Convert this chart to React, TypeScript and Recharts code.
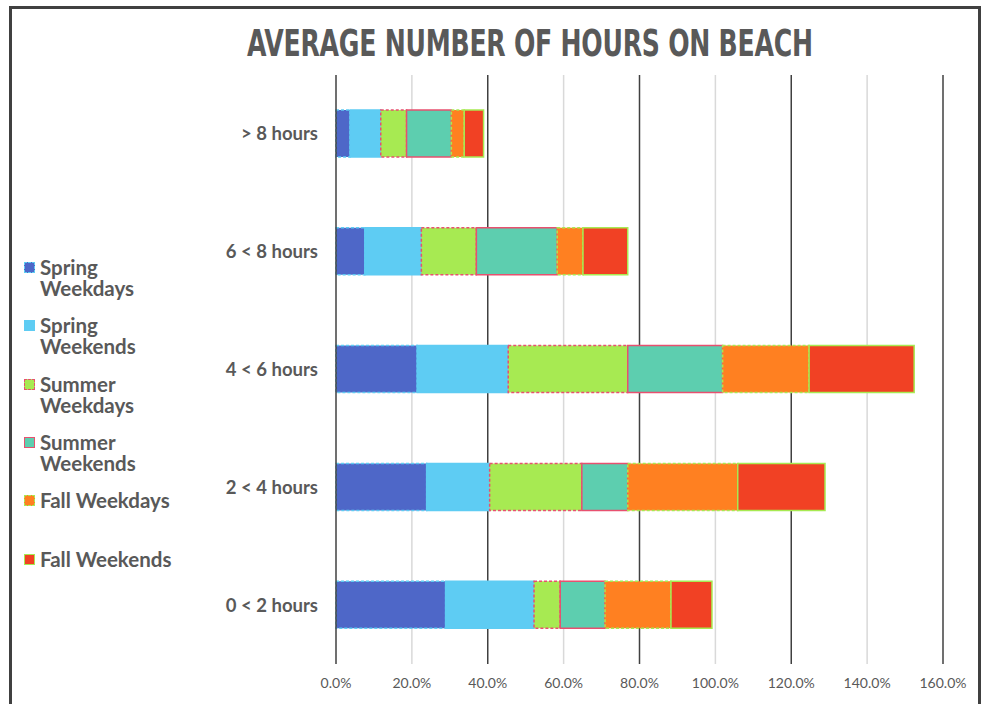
import React from "react";
import { Bar, BarChart, XAxis, YAxis, CartesianGrid } from "recharts";

// categories, top to bottom
const ranges = ["> 8 hours", "6 < 8 hours", "4 < 6 hours", "2 < 4 hours", "0 < 2 hours"];

// shares in percent
const springWeekdays = [3.7, 7.6, 21.4, 23.9, 28.9];
const springWeekends = [8.1, 14.9, 24.0, 16.6, 23.3];
const summerWeekdays = [6.8, 14.5, 31.5, 24.3, 6.9];
const summerWeekends = [11.8, 21.3, 25.0, 12.1, 11.8];
const fallWeekdays = [3.4, 6.8, 22.8, 29.0, 17.4];
const fallWeekends = [5.1, 11.8, 27.7, 23.0, 10.8];

const xTicks = [0, 20, 40, 60, 80, 100, 120, 140, 160];
const darkTicks = [40, 80, 120, 160];
const lightTicks = [20, 60, 100, 140];
const xMax = 160;

const series = [
    { key: "springWeekdays", label: ["Spring", "Weekdays"], fill: "#4E67C8", stroke: "#5ECCF3", dash: "3 2" },
    { key: "springWeekends", label: ["Spring", "Weekends"], fill: "#5ECCF3", stroke: "#5ECCF3", dash: undefined },
    { key: "summerWeekdays", label: ["Summer", "Weekdays"], fill: "#A7EA52", stroke: "#E8506F", dash: "3 2" },
    { key: "summerWeekends", label: ["Summer", "Weekends"], fill: "#5DCEAF", stroke: "#E8506F", dash: undefined },
    { key: "fallWeekdays", label: ["Fall Weekdays"], fill: "#FF8021", stroke: "#A7EA52", dash: "3 2" },
    { key: "fallWeekends", label: ["Fall Weekends"], fill: "#F14124", stroke: "#A7EA52", dash: undefined },
];

const data = ranges.map((range, i) => ({
    range,
    springWeekdays: springWeekdays[i],
    springWeekends: springWeekends[i],
    summerWeekdays: summerWeekdays[i],
    summerWeekends: summerWeekends[i],
    fallWeekdays: fallWeekdays[i],
    fallWeekends: fallWeekends[i],
}));

const grey = "#595959";
const font = "Lato, 'Open Sans', sans-serif";

// map tick values through the axis scale (fallback: linear over the plot area)
const gridAt = (values: number[]) => (props: any) => {
    const scale = props?.xAxis?.scale;
    if (typeof scale === "function") return values.map((v) => scale(v));
    if (scale && typeof scale.map === "function") return values.map((v) => scale.map(v));
    const { left, width } = props.offset;
    return values.map((v) => left + (v / xMax) * width);
};

function SideLegend() {
    return (
        <div style={{ position: "absolute", left: 24, top: 257, fontFamily: font, color: grey }}>
            {series.map((s, i) => (
                <div key={s.key} style={{ position: "absolute", top: i * 58.3, left: 0, width: 170, display: "flex" }}>
                    <div
                        style={{
                            width: 11,
                            height: 11,
                            marginTop: 5,
                            boxSizing: "border-box",
                            background: s.fill,
                            border: `1.5px ${s.dash ? "dashed" : "solid"} ${s.stroke}`,
                            flexShrink: 0,
                        }}
                    />
                    <div style={{ marginLeft: 5, fontSize: 20.5, fontWeight: 700, lineHeight: "21px", whiteSpace: "nowrap" }}>
                        {s.label.map((l) => (
                            <div key={l}>{l}</div>
                        ))}
                    </div>
                </div>
            ))}
        </div>
    );
}

export default function App() {
    return (
        <div style={{ position: "absolute", left: 0, top: 0, width: 985, height: 704, background: "#fff", overflow: "hidden" }}>
            <div
                style={{
                    position: "absolute",
                    left: 9,
                    top: 6,
                    width: 972,
                    height: 740,
                    boxSizing: "border-box",
                    border: "3px solid #404040",
                }}
            />
            <svg width={985} height={90} style={{ position: "absolute", left: 0, top: 0 }}>
                <g transform="translate(0 56) scale(1 1.32)">
                    <text
                        x={247}
                        y={0}
                        textLength={566}
                        lengthAdjust="spacing"
                        fill={grey}
                        fontFamily="'Liberation Sans Narrow', 'DejaVu Sans Condensed', sans-serif"
                        fontWeight={700}
                        fontSize={28}
                    >
                        AVERAGE NUMBER OF HOURS ON BEACH
                    </text>
                </g>
            </svg>
            <div style={{ position: "absolute", left: 0, top: 0 }}>
                <BarChart
                    width={985}
                    height={704}
                    data={data}
                    layout="vertical"
                    margin={{ top: 75, right: 42, bottom: 0, left: 0 }}
                    barSize={47}
                >
                    <CartesianGrid
                        horizontal={false}
                        stroke="#d9d9d9"
                        strokeWidth={1.5}
                        verticalCoordinatesGenerator={gridAt(lightTicks)}
                    />
                    <CartesianGrid
                        horizontal={false}
                        stroke="#404040"
                        strokeWidth={1.5}
                        verticalCoordinatesGenerator={gridAt(darkTicks)}
                    />
                    <XAxis
                        type="number"
                        domain={[0, xMax]}
                        ticks={xTicks}
                        tickFormatter={(v) => `${v.toFixed(1)}%`}
                        axisLine={false}
                        tickLine={false}
                        tickMargin={8}
                        height={40}
                        tick={{ fill: grey, fontSize: 14, fontFamily: font }}
                    />
                    <YAxis
                        type="category"
                        dataKey="range"
                        width={336}
                        axisLine={{ stroke: "#404040", strokeWidth: 1.5 }}
                        tickLine={false}
                        tickMargin={12}
                        tick={{ fill: grey, fontSize: 18.5, fontWeight: 700, fontFamily: font }}
                    />
                    {series.map((s) => (
                        <Bar
                            key={s.key}
                            dataKey={s.key}
                            stackId="a"
                            fill={s.fill}
                            stroke={s.stroke}
                            strokeWidth={1.5}
                            strokeDasharray={s.dash}
                            isAnimationActive={false}
                        />
                    ))}
                </BarChart>
            </div>
            <SideLegend />
        </div>
    );
}
